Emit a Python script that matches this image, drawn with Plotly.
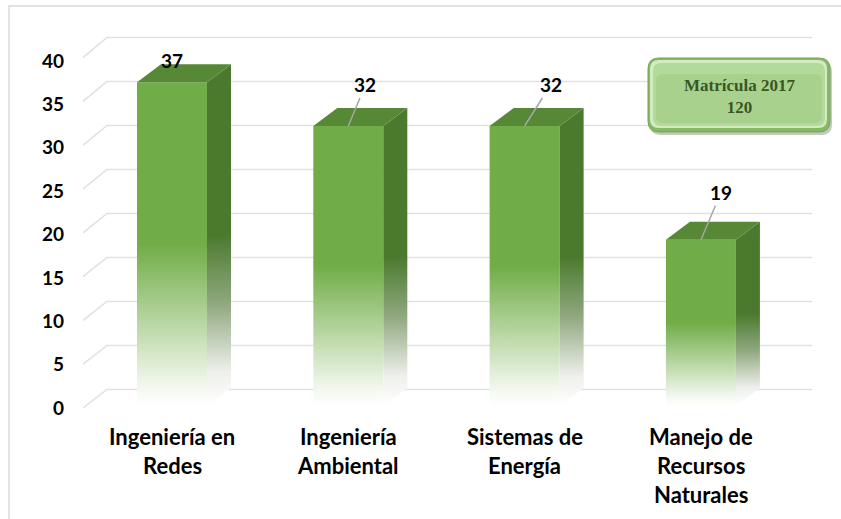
import plotly.graph_objects as go

# ---- data ----
categories = ["Ingeniería en<br>Redes", "Ingeniería<br>Ambiental", "Sistemas de<br>Energía",
              "Manejo de<br>Recursos<br>Naturales"]
values = [37, 32, 32, 19]
y_ticks = [0, 5, 10, 15, 20, 25, 30, 35, 40]
box_title = "Matrícula 2017"
box_total = 120

# ---- style / geometry constants ----
W, H = 841, 519
ML, MR, MT, MB = 83, 29, 35, 98
X0, X1 = -0.5048, 3.630
Y0, Y1 = -1.5, 43.0
kx = (W - ML - MR) / (X1 - X0)          # px per x unit
ky = (H - MT - MB) / (Y1 - Y0)          # px per y unit
hw = 35 / kx                            # bar half width
ddx, ddy = 24 / kx, 18 / ky             # 3D depth offset
base = 2 / ky                           # bar plane offset
bar_scale = 8.75 / ky
front_col = "#70AD47"
side_col = "#4B7A2E"
top_col = "#568836"
grid_col = "#e1e1e1"
lbl_off = [(0, -22, False), (17, -41, True), (26, -41, True), (20, -47, True)]
FONT = "Lato"

fig = go.Figure()

# back-wall gridlines with diagonal connectors
gx, gy = [], []
for v in y_ticks:
    yf = v * 1.01
    yb = (18.5 + v * 8.8) / ky
    gx += [X0, X0 + ddx, X1, None]
    gy += [yf, yb, yb, None]
fig.add_trace(go.Scatter(x=gx, y=gy, mode="lines", line=dict(color=grid_col, width=1.6),
                         hoverinfo="skip"))

# 3D bars
for i, v in enumerate(values):
    yt = base + v * bar_scale
    yb = base
    # front face
    fig.add_trace(go.Scatter(
        x=[i - hw, i + hw, i + hw, i - hw, i - hw], y=[yb, yb, yt, yt, yb],
        mode="lines", line=dict(width=0), fill="toself",
        fillgradient=dict(type="vertical",
                          colorscale=[[0, "#ffffff"], [0.06, "#f3f8ef"], [0.5, front_col], [1, front_col]]),
        hoverinfo="skip"))
    # side face
    fig.add_trace(go.Scatter(
        x=[i + hw, i + hw + ddx, i + hw + ddx, i + hw, i + hw],
        y=[yb, yb + ddy, yt + ddy, yt, yb],
        mode="lines", line=dict(width=0), fill="toself",
        fillgradient=dict(type="vertical",
                          colorscale=[[0, "#ffffff"], [0.1, "#eef0ec"], [0.3, "#90a880"],
                                      [0.5, side_col], [1, side_col]]),
        hoverinfo="skip"))
    # top face
    fig.add_trace(go.Scatter(
        x=[i - hw, i + hw, i + hw + ddx, i - hw + ddx, i - hw],
        y=[yt, yt, yt + ddy, yt + ddy, yt],
        mode="lines", line=dict(width=0), fill="toself", fillcolor=top_col,
        hoverinfo="skip"))

annotations = []
# data labels
for i, v in enumerate(values):
    yt = base + v * bar_scale
    dx, dy, leader = lbl_off[i]
    if leader:
        annotations.append(dict(x=i, y=yt, xref="x", yref="y", text=str(v), showarrow=True,
                                ax=dx, ay=dy, arrowhead=0, arrowwidth=1.5, arrowcolor="#a6a6a6",
                                standoff=0,
                                font=dict(family=FONT, size=19, color="#000000", weight="bold")))
    else:
        annotations.append(dict(x=i, y=yt, xref="x", yref="y", text=str(v), showarrow=False,
                                xshift=dx, yshift=-dy,
                                font=dict(family=FONT, size=19, color="#000000", weight="bold")))

# category labels (one annotation per line for Excel-like line spacing)
for i, c in enumerate(categories):
    for j, line in enumerate(c.split("<br>")):
        annotations.append(dict(x=i, y=0, xref="x", yref="y", text=line, showarrow=False,
                                yanchor="middle", yshift=-29 - 29 * j,
                                font=dict(family=FONT, size=22, color="#000000", weight="bold")))

def px2paper(px, py):
    return (px - ML) / (W - ML - MR), (H - MB - py) / (H - MT - MB)

def rounded(x0p, y0p, x1p, y1p, r):
    def P(px, py):
        a, b = px2paper(px, py)
        return f"{a:.5f},{b:.5f}"
    return (f"M {P(x0p + r, y0p)} L {P(x1p - r, y0p)} Q {P(x1p, y0p)} {P(x1p, y0p + r)} "
            f"L {P(x1p, y1p - r)} Q {P(x1p, y1p)} {P(x1p - r, y1p)} "
            f"L {P(x0p + r, y1p)} Q {P(x0p, y1p)} {P(x0p, y1p - r)} "
            f"L {P(x0p, y0p + r)} Q {P(x0p, y0p)} {P(x0p + r, y0p)} Z")

bx0, by0, bx1, by1 = 648, 58, 830, 132
shapes = [
    # chart border (left and top visible)
    dict(type="rect", xref="paper", yref="paper",
         x0=px2paper(9, 0)[0], x1=px2paper(846, 0)[0],
         y0=px2paper(0, 530)[1], y1=px2paper(0, 6)[1],
         line=dict(color="#d9d9d9", width=1.5), fillcolor="rgba(0,0,0,0)", layer="below"),
    dict(type="path", xref="paper", yref="paper", path=rounded(bx0 + 2, by0 + 3, bx1 + 2, by1 + 3, 11),
         fillcolor="rgba(60,80,50,0.3)", line=dict(width=0)),
    dict(type="path", xref="paper", yref="paper", path=rounded(bx0, by0, bx1, by1, 11),
         fillcolor="#86b866", line=dict(color="#77a558", width=1)),
    dict(type="path", xref="paper", yref="paper", path=rounded(bx0 + 2, by0 + 2, bx1 - 3, by1 - 4, 9),
         fillcolor="#d2ebc1", line=dict(width=0)),
    dict(type="path", xref="paper", yref="paper", path=rounded(bx0 + 5, by0 + 5, bx1 - 5, by1 - 6, 8),
         fillcolor="#b4da9b", line=dict(width=0)),
    dict(type="path", xref="paper", yref="paper", path=rounded(bx0 + 8, by0 + 16, bx1 - 8, by1 - 9, 7),
         fillcolor="#a9d18e", line=dict(width=0)),
]
cx, cy = px2paper((bx0 + bx1) / 2, (by0 + by1) / 2 + 1)
annotations.append(dict(x=cx, y=cy, xref="paper", yref="paper", showarrow=False,
                        xanchor="center", yanchor="middle",
                        text=f"{box_title}<br>{box_total}",
                        font=dict(family="Liberation Serif", size=17, color="#385723", weight="bold")))

fig.update_layout(
    width=W, height=H, margin=dict(l=ML, r=MR, t=MT, b=MB, autoexpand=False),
    paper_bgcolor="white", plot_bgcolor="white", showlegend=False,
    xaxis=dict(range=[X0, X1], showgrid=False, zeroline=False, showticklabels=False,
               showline=False, fixedrange=True, automargin=False),
    yaxis=dict(range=[Y0, Y1], tickvals=y_ticks, showgrid=False, zeroline=False, showline=False,
               ticks="", ticklabelstandoff=18, automargin=False,
               tickfont=dict(family=FONT, size=19, color="#000000", weight="bold")),
    annotations=annotations, shapes=shapes,
)

fig.write_html("out.html", config={"displayModeBar": False},
               post_script="document.body.style.margin='0px';")
